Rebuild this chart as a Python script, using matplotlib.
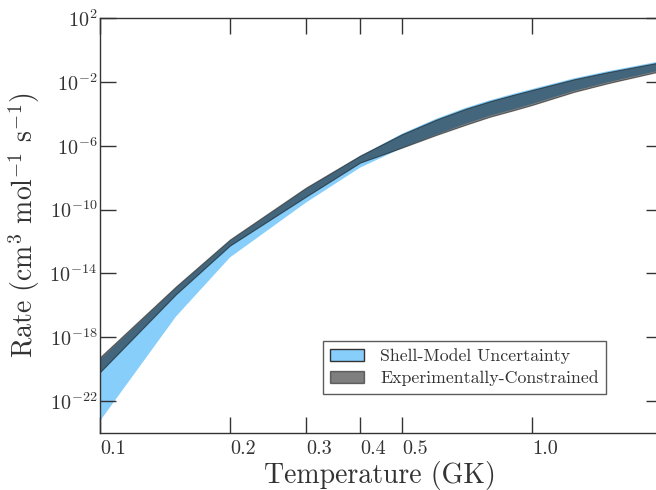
import matplotlib
matplotlib.use("Agg")
import matplotlib.pyplot as plt
from matplotlib.patches import Patch

# Temperature grid (GK)
temperature = [0.1, 0.15, 0.2, 0.3, 0.4, 0.5, 0.6, 0.7, 0.8, 0.9, 1.0, 1.25, 1.5, 2.0]

# Shell-model rate band (cm^3 mol^-1 s^-1)
shell_low = [5.6e-24, 2.0e-17, 1.0e-13, 2.75e-10, 4.2e-8, 7.1e-7, 4.9e-6, 2.3e-5,
             7.6e-5, 1.8e-4, 4.1e-4, 2.7e-3, 9.5e-3, 5.6e-2]
shell_high = [4.0e-20, 1.25e-15, 1.1e-12, 2.0e-9, 2.2e-7, 5.6e-6, 4.9e-5, 2.3e-4,
              7.1e-4, 1.7e-3, 3.55e-3, 1.66e-2, 4.7e-2, 0.204]

# Experimentally constrained band
exp_low = [6.5e-21, 5.0e-16, 5.6e-13, 6.5e-10, 8.7e-8, 7.6e-7, 4.7e-6, 2.0e-5,
           6.6e-5, 1.58e-4, 3.55e-4, 2.35e-3, 8.3e-3, 4.9e-2]
exp_high = [5.6e-20, 1.55e-15, 1.35e-12, 2.4e-9, 2.4e-7, 5.2e-6, 4.3e-5, 2.0e-4,
            6.2e-4, 1.48e-3, 3.1e-3, 1.45e-2, 4.1e-2, 0.178]

x_ticks = [0.1, 0.2, 0.3, 0.4, 0.5, 1.0]
x_tick_labels = ["0.1", "0.2", "0.3", "0.4", "0.5", "1.0"]
y_ticks = [1e2, 1e-2, 1e-6, 1e-10, 1e-14, 1e-18, 1e-22]

TEXT = "#333333"

plt.rcParams["font.family"] = ["cmr10", "DejaVu Serif"]
plt.rcParams["mathtext.fontset"] = "cm"
plt.rcParams["axes.formatter.use_mathtext"] = True
plt.rcParams["axes.unicode_minus"] = False


def main():
    fig = plt.figure(figsize=(6.56, 4.9), dpi=100)
    ax = fig.add_axes([0.1524, 0.1163, 0.8567, 0.8469])

    ax.fill_between(temperature, shell_low, shell_high,
                    facecolor="#87cefa", linewidth=0)
    ax.fill_between(temperature, exp_low, exp_high,
                    facecolor="k", edgecolor="k", alpha=0.5, linewidth=0.8)

    ax.set_xscale("log")
    ax.set_yscale("log")
    ax.set_xlim(0.1, 2.0)
    ax.set_ylim(1e-24, 1e2)

    ax.set_xticks(x_ticks)
    ax.set_xticklabels(x_tick_labels, ha="left")
    ax.xaxis.set_minor_locator(matplotlib.ticker.NullLocator())
    ax.set_yticks(y_ticks)
    ax.yaxis.set_minor_locator(matplotlib.ticker.NullLocator())

    ax.tick_params(which="major", direction="in", length=11.5, width=1,
                   top=True, right=True, colors=TEXT, labelsize=14.5)
    ax.tick_params(axis="x", pad=5)
    ax.tick_params(axis="y", pad=2)
    for spine in ax.spines.values():
        spine.set_color(TEXT)
        spine.set_linewidth(1)

    ax.set_xlabel("Temperature (GK)", fontsize=20, color=TEXT)
    ax.set_ylabel(r"Rate (cm$^3$ mol$^{-1}$ s$^{-1}$)", fontsize=20, color=TEXT)
    ax.xaxis.set_label_coords(0.498, -0.068)
    ax.yaxis.set_label_coords(-0.103, 0.5)

    handles = [
        Patch(facecolor="#87cefa", edgecolor="#333333", linewidth=1),
        Patch(facecolor="k", edgecolor="k", alpha=0.5),
    ]
    leg = ax.legend(handles, ["Shell-Model Uncertainty", "Experimentally-Constrained"],
                    loc="lower right", bbox_to_anchor=(0.9, 0.095), fontsize=12.8,
                    fancybox=False, frameon=True, borderaxespad=0,
                    handlelength=1.9, handleheight=0.7, handletextpad=0.9,
                    labelspacing=0.35, borderpad=0.4)
    leg.get_frame().set_edgecolor(TEXT)
    leg.get_frame().set_linewidth(1)
    for t in leg.get_texts():
        t.set_color(TEXT)

    fig.savefig("out.png", dpi=100)
    plt.close(fig)


if __name__ == "__main__":
    main()
